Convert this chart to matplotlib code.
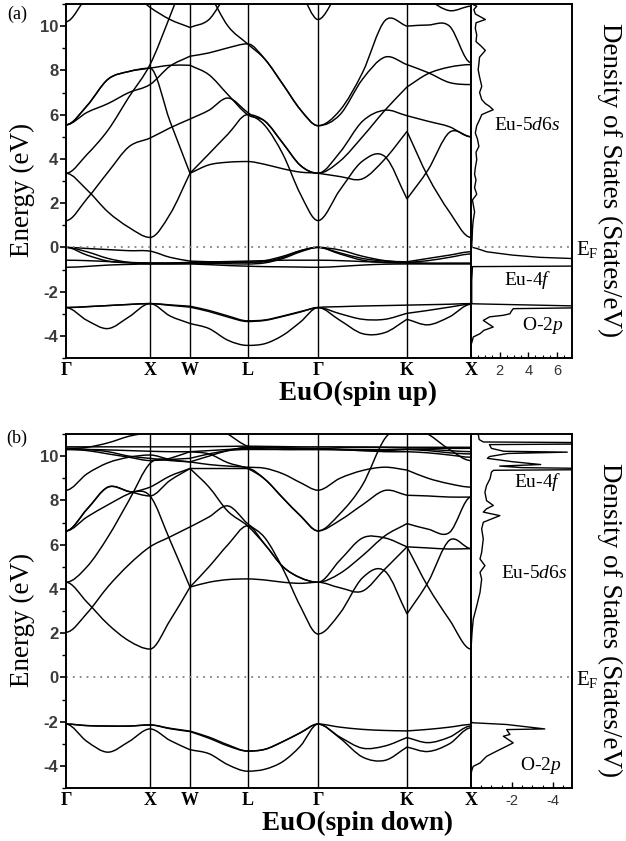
import numpy as np
import matplotlib
matplotlib.use('Agg')
import matplotlib.pyplot as plt
from matplotlib.path import Path
from matplotlib.patches import PathPatch
from matplotlib.ticker import MultipleLocator

plt.rcParams['font.family'] = ['Liberation Serif', 'DejaVu Serif']
plt.rcParams['mathtext.fontset'] = 'custom'
plt.rcParams['mathtext.rm'] = 'Liberation Serif'
plt.rcParams['mathtext.it'] = 'Liberation Serif:italic'
plt.rcParams['axes.unicode_minus'] = False

# k-path (distance along path) and the sampling grid used for all bands
kpts = [0, 84, 124, 181.5, 252, 341, 405]
klabels = ['Γ', 'X', 'W', 'L', 'Γ', 'K', 'X']
kgrid = [0, 21, 42, 63, 84, 104, 124, 143, 162, 181.5, 199, 217, 234.5,
         252, 274, 296.5, 319, 341, 362, 383.5, 405]

# ---- spin up bands (eV) at kgrid ----
up_t = [10.2, 11.3, 11.8, 11.6, 10.85, 10.3, 9.94, 10.3, 11.5, 12.0, 12.0, 12.0, 11.5,
        10.3, 11.6, 12.0, 12.0, 11.8, 11.2, 10.7, 10.9]
up_s = [3.35, 4.2, 5.3, 6.8, 8.26, 10.45, 12.8, 11.5, 10.0, 9.2, 8.5, 7.36, 6.22,
        5.5, 6.2, 7.9, 10.25, 10.0, 10.05, 10.0, 8.35]
up_c2 = [5.54, 6.1, 6.5, 7.0, 7.36, 8.19, 8.64, 8.79, 9.02, 9.2, 8.5, 7.36, 6.22,
         5.5, 6.0, 7.6, 8.6, 8.26, 7.9, 7.45, 7.36]
up_c3 = [5.54, 6.4, 7.6, 7.95, 8.1, 8.23, 8.23, 7.8, 6.9, 6.0, 5.7, 4.7, 3.7,
         3.35, 3.9, 5.0, 6.2, 7.25, 7.85, 8.15, 8.26]
up_d = [5.54, 6.4, 7.6, 7.95, 8.1, 5.7, 3.35, 4.23, 5.12, 6.0, 5.7, 4.7, 3.7,
        3.35, 4.3, 5.7, 6.2, 5.95, 5.7, 5.45, 5.0]
up_a = [1.21, 2.2, 3.4, 4.55, 4.94, 5.4, 5.8, 6.2, 6.75, 6.1, 5.5, 4.2, 2.4,
        1.21, 2.6, 3.9, 4.1, 2.19, 3.5, 5.2, 5.0]
up_b = [3.35, 2.6, 1.6, 0.9, 0.45, 1.5, 3.35, 3.73, 3.85, 3.88, 3.75, 3.55, 3.4,
        3.35, 3.2, 3.1, 4.0, 5.24, 3.2, 1.6, 0.45]
up_f1 = [0.0, -0.05, -0.1, -0.15, -0.17, -0.45, -0.62, -0.65, -0.67, -0.68, -0.6, -0.4, -0.15,
         0.0, -0.25, -0.5, -0.62, -0.65, -0.5, -0.35, -0.2]
up_f2 = [0.0, -0.35, -0.62, -0.7, -0.72, -0.72, -0.7, -0.72, -0.74, -0.75, -0.7, -0.5, -0.2,
         0.0, -0.3, -0.58, -0.68, -0.7, -0.72, -0.72, -0.72]
up_f3 = [-0.58, -0.6, -0.64, -0.68, -0.7, -0.7, -0.68, -0.66, -0.64, -0.62, -0.6, -0.58, -0.58,
         -0.58, -0.6, -0.64, -0.68, -0.7, -0.72, -0.72, -0.72]
up_f4 = [-0.9, -0.86, -0.8, -0.77, -0.75, -0.75, -0.75, -0.78, -0.82, -0.85, -0.87, -0.88, -0.89,
         -0.9, -0.86, -0.8, -0.76, -0.75, -0.75, -0.75, -0.75]
up_f5 = [0.0, -0.2, -0.5, -0.68, -0.74, -0.74, -0.72, -0.7, -0.68, -0.66, -0.65, -0.45, -0.15,
         0.0, -0.12, -0.4, -0.6, -0.68, -0.6, -0.45, -0.3]
up_p1 = [-2.72, -2.68, -2.63, -2.58, -2.54, -2.6, -2.66, -2.85, -3.1, -3.32, -3.28, -3.1, -2.9,
         -2.72, -2.68, -2.65, -2.63, -2.61, -2.59, -2.57, -2.54]
up_p2 = [-2.72, -3.3, -3.67, -3.14, -2.54, -3.1, -3.44, -3.67, -4.2, -4.43, -4.35, -3.97, -3.37,
         -2.72, -3.3, -3.9, -3.85, -3.25, -3.5, -3.14, -2.57]
up_p3 = [-2.72, -2.68, -2.63, -2.58, -2.54, -2.62, -2.7, -2.9, -3.15, -3.35, -3.3, -3.12, -2.92,
         -2.72, -3.0, -3.25, -3.25, -2.98, -2.85, -2.7, -2.57]

# ---- spin down bands ----
dn_t = [8.46, 9.2, 9.7, 9.95, 10.05, 9.85, 9.74, 9.62, 9.55, 9.5, 9.45, 9.2, 8.8,
        8.46, 9.0, 9.35, 9.5, 9.37, 9.0, 8.75, 8.6]
dn_s = [4.3, 5.0, 6.35, 8.0, 9.67, 9.9, 10.2, 10.1, 9.7, 9.44, 8.95, 8.1, 7.3,
        6.62, 7.4, 8.7, 10.8, 11.5, 11.0, 10.3, 9.8]
dn_c2 = [6.62, 7.25, 7.8, 8.3, 8.6, 9.1, 9.44, 9.44, 9.44, 9.44, 8.95, 8.1, 7.3,
         6.62, 7.1, 7.8, 8.45, 8.23, 8.2, 8.15, 8.15]
dn_c3 = [6.62, 7.6, 8.6, 8.4, 8.2, 8.9, 9.44, 8.6, 7.5, 6.85, 6.0, 5.0, 4.5,
         4.3, 4.7, 5.5, 6.4, 6.95, 6.7, 6.55, 8.15]
dn_d = [6.62, 7.6, 8.6, 8.4, 8.2, 6.2, 4.08, 5.0, 6.0, 6.85, 6.0, 5.0, 4.5,
        4.3, 5.3, 6.3, 6.3, 5.9, 5.85, 5.8, 5.82]
dn_a = [2.04, 2.9, 4.1, 5.1, 5.9, 6.35, 6.8, 7.25, 7.75, 6.95, 6.3, 4.9, 3.2,
        1.96, 2.9, 4.5, 4.8, 2.87, 4.3, 6.2, 5.82]
dn_b = [4.3, 3.4, 2.4, 1.65, 1.28, 2.57, 4.08, 4.3, 4.42, 4.45, 4.4, 4.3, 4.25,
        4.3, 4.05, 3.9, 4.9, 5.9, 4.1, 2.6, 1.28]
dn_t2 = [10.35, 10.4, 10.6, 10.9, 11.1, 11.5, 11.8, 11.6, 11.0, 10.45, 10.4, 10.38, 10.36,
         10.35, 10.38, 10.4, 10.4, 10.38, 10.36, 10.35, 10.35]
dn_f1 = [10.42, 10.42, 10.42, 10.42, 10.42, 10.42, 10.42, 10.43, 10.44, 10.45, 10.44, 10.43, 10.42,
         10.42, 10.42, 10.41, 10.4, 10.4, 10.4, 10.4, 10.4]
dn_f2 = [10.3, 10.3, 10.28, 10.25, 10.22, 10.2, 10.2, 10.25, 10.3, 10.35, 10.33, 10.3, 10.3,
         10.3, 10.3, 10.3, 10.3, 10.32, 10.3, 10.25, 10.2]
dn_f3 = [10.3, 10.25, 10.1, 9.95, 9.8, 9.85, 9.9, 10.1, 10.25, 10.3, 10.3, 10.3, 10.3,
         10.3, 10.28, 10.25, 10.2, 10.2, 10.15, 10.05, 9.95]
dn_f4 = [10.35, 10.3, 10.2, 10.0, 9.9, 9.8, 9.74, 10.0, 10.25, 10.4, 10.38, 10.36, 10.35,
         10.35, 10.3, 10.25, 10.25, 10.3, 10.25, 10.15, 10.1]
dn_p1 = [-2.11, -2.18, -2.2, -2.2, -2.15, -2.3, -2.43, -2.7, -3.05, -3.33, -3.25, -2.9, -2.5,
         -2.11, -2.25, -2.35, -2.4, -2.42, -2.35, -2.25, -2.13]
dn_p2 = [-2.11, -2.9, -3.38, -2.9, -2.33, -2.85, -3.27, -3.45, -3.95, -4.24, -4.15, -3.8, -3.1,
         -2.11, -2.75, -3.6, -3.75, -3.15, -3.35, -3.0, -2.28]
dn_p3 = [-2.11, -2.18, -2.2, -2.2, -2.15, -2.32, -2.45, -2.75, -3.1, -3.33, -3.25, -2.9, -2.5,
         -2.11, -2.7, -3.2, -3.1, -2.72, -2.95, -2.7, -2.2]

# ---- density of states ----
dos_up_e = [11.0, 10.9, 10.75, 10.55, 10.3, 10.15, 9.9, 9.6, 9.3, 9.1, 8.9, 8.75, 8.6, 8.3, 8.03,
            7.7, 7.28, 7.0, 6.68, 6.5, 6.37, 6.22, 6.1, 6.0, 5.77, 5.5, 5.17, 4.9, 4.56, 4.3,
            3.96, 3.6, 3.3, 3.05, 2.7, 2.4, 2.14, 1.6, 1.2, 0.8, 0.4, 0.1, 0.0, -0.05, -0.2,
            -0.35, -0.45, -0.5, -0.56, -0.84, -0.87, -1.5, -2.5, -2.55, -2.67, -2.72, -2.77,
            -2.9, -3.0, -3.07, -3.14, -3.3, -3.45, -3.6, -3.75, -3.9, -4.05, -4.2, -4.35]
dos_up_v = [0.05, 0.4, 0.2, 0.3, 1.0, 0.35, 0.3, 0.4, 0.35, 0.7, 1.0, 0.8, 0.6, 0.55, 0.5,
            0.6, 0.75, 0.6, 0.75, 1.0, 1.3, 1.55, 1.1, 0.75, 0.6, 0.4, 0.3, 0.45, 0.55, 0.35,
            0.4, 0.3, 0.25, 0.35, 0.25, 0.4, 0.1, 0.25, 0.15, 0.1, 0.08, 0.05, 0.1, 0.4, 1.1,
            2.9, 4.8, 6.9, 9.0, 9.0, 0.1, 0.05, 0.05, 0.1, 9.0, 9.0, 2.95,
            2.8, 2.72, 2.25, 1.3, 0.86, 1.2, 1.55, 0.9, 0.63, 0.16, 0.1, 0.03]
dos_dn_e = [11.0, 10.75, 10.64, 10.61, 10.55, 10.52, 10.35, 10.22, 10.18, 10.12, 9.98, 9.9, 9.75,
            9.62, 9.55, 9.48, 9.44, 9.39, 9.36, 9.28, 8.98, 8.67, 8.37, 7.99, 7.77, 7.62, 7.47,
            7.31, 7.16, 7.01, 6.71, 6.26, 5.65, 5.35, 5.05, 4.75, 4.44, 3.84, 3.54, 3.23, 2.63,
            2.03, 1.27, 0.0, -1.95, -2.05, -2.13, -2.33, -2.36, -2.58, -2.66, -2.96, -3.11,
            -3.41, -3.57, -3.87, -4.02, -4.17, -4.35]
dos_dn_v = [-0.35, -0.4, -0.6, -6.0, -6.0, -0.9, -1.0, -1.6, -4.7, -1.8, -0.9, -0.8, -2.0,
            -3.4, -1.4, -2.5, -6.0, -6.0, -1.1, -1.0, -0.93, -0.76, -0.68, -0.76, -1.09, -0.76, -0.6,
            -1.41, -1.0, -0.6, -0.52, -0.6, -0.52, -0.44, -0.68, -0.44, -0.52, -0.44, -0.36, -0.28, -0.11,
            -0.05, 0.0, 0.0, 0.0, -0.05, -1.74, -3.6, -1.74, -1.9, -1.58, -2.06, -1.74,
            -1.09, -0.76, -0.44, -0.11, -0.05, 0.0]

up_bands = [up_t, up_s, up_c2, up_c3, up_d, up_a, up_b,
            up_f1, up_f2, up_f3, up_f4, up_f5, up_p1, up_p2, up_p3]
dn_bands = [dn_t, dn_s, dn_c2, dn_c3, dn_d, dn_a, dn_b, dn_t2,
            dn_f1, dn_f2, dn_f3, dn_f4, dn_p1, dn_p2, dn_p3]

SMOOTH_PTS = (0, 84, 181.5, 252, 405)   # Γ, X, L
KINK_PTS = (124, 341)                    # W, K


def band_slopes(k, e):
    n = len(k)
    m_in = np.zeros(n)
    m_out = np.zeros(n)
    for i in range(n):
        back = (e[i] - e[i-1]) / (k[i] - k[i-1]) if i > 0 else None
        fwd = (e[i+1] - e[i]) / (k[i+1] - k[i]) if i < n - 1 else None
        if k[i] in KINK_PTS:
            m_in[i], m_out[i] = back, fwd
        elif k[i] in SMOOTH_PTS and (back is None or fwd is None or back * fwd <= 0):
            m_in[i] = m_out[i] = 0.0
        else:
            m_in[i] = m_out[i] = (e[i+1] - e[i-1]) / (k[i+1] - k[i-1])
    return m_in, m_out


def band_patch(e):
    # smooth cubic curve through the read values (bezier path in data coords)
    k = np.asarray(kgrid, float)
    e = np.asarray(e, float)
    m_in, m_out = band_slopes(k, e)
    verts = [(k[0], e[0])]
    codes = [Path.MOVETO]
    for i in range(len(k) - 1):
        h = (k[i+1] - k[i]) / 3
        verts += [(k[i] + h, e[i] + m_out[i] * h),
                  (k[i+1] - h, e[i+1] - m_in[i+1] * h),
                  (k[i+1], e[i+1])]
        codes += [Path.CURVE4] * 3
    return PathPatch(Path(verts, codes), fill=False, lw=1.05, edgecolor='k')


W, H = 626, 841
fig = plt.figure(figsize=(W / 100, H / 100), dpi=100)


def fx(x):
    return x / W


def fy(y):
    return 1 - y / H


def panel(top, bands, dos_e, dos_v, dos_lim, dos_ticks):
    bottom = fy(top + 354)
    ax = fig.add_axes([fx(66), bottom, fx(405), 354 / H])
    dax = fig.add_axes([fx(471), bottom, fx(101), 354 / H])

    for b in bands:
        ax.add_patch(band_patch(b))
    for p in kpts[1:-1]:
        ax.axvline(p, color='k', lw=1.0)
    ax.set_xlim(0, 405)
    ax.set_ylim(-5, 11)
    ax.set_xticks(kpts)
    ax.set_xticklabels(klabels, fontweight='bold', fontsize=13)
    ax.tick_params(axis='x', length=0, pad=3)
    ax.set_yticks(range(-4, 11, 2))
    ax.set_yticks(range(-5, 12), minor=True)
    ax.tick_params(axis='y', which='major', direction='out', length=4, width=1.2, pad=1.5)
    ax.tick_params(axis='y', which='minor', direction='out', length=3, width=1.0)
    for lab in ax.get_yticklabels():
        lab.set_fontfamily('Liberation Sans')
        lab.set_fontweight('bold')
        lab.set_fontsize(12)
        lab.set_color('#3a3a3a')

    dax.plot(dos_v, dos_e, color='k', lw=1.0)
    dax.set_xlim(*dos_lim)
    dax.set_ylim(-5, 11)
    dax.set_yticks([])
    dax.set_xticks(dos_ticks)
    dax.xaxis.set_minor_locator(MultipleLocator(0.5))
    dax.tick_params(axis='x', which='major', direction='in', length=4.5, width=1.0, pad=4)
    dax.tick_params(axis='x', which='minor', direction='in', length=2.5, width=0.8)
    for lab in dax.get_xticklabels():
        lab.set_fontfamily('Liberation Sans')
        lab.set_fontsize(10.5)
        lab.set_color('#333333')

    for a in (ax, dax):
        a.axhline(0, color='#808080', lw=1.3, ls=(0, (1, 2.8)))
        for sp in a.spines.values():
            sp.set_linewidth(1.4)
    return ax, dax


panel(4, up_bands, dos_up_e, dos_up_v, (0, 7.05), [2, 4, 6])
panel(434, dn_bands, dos_dn_e, dos_dn_v, (0, -4.93), [-2, -4])

# panel letters and axis titles
fig.text(fx(17), fy(14), '(a)', fontsize=13, ha='center', va='center')
fig.text(fx(17), fy(438), '(b)', fontsize=13, ha='center', va='center')
for yc in (190, 620):
    fig.text(fx(22), fy(yc), 'Energy (eV)', fontsize=19.5, rotation=90,
             ha='center', va='center')
for yc in (180, 620):
    fig.text(fx(610), fy(yc), 'Density of States (States/eV)', fontsize=19.5,
             rotation=270, ha='center', va='center')
fig.text(fx(358), fy(400), 'EuO(spin up)', fontsize=19.5, fontweight='bold',
         ha='center', va='baseline')
fig.text(fx(358), fy(830), 'EuO(spin down)', fontsize=19.5, fontweight='bold',
         ha='center', va='baseline')

# DOS annotations
notes = [('Eu-5$d$6$s$', 527, 125), ('Eu-4$f$', 528, 280), ('O-2$p$', 543, 325),
         ('Eu-4$f$', 538, 482), ('Eu-5$d$6$s$', 534, 573), ('O-2$p$', 541, 765)]
for txt, x, y in notes:
    fig.text(fx(x), fy(y), txt, fontsize=14, ha='center', va='center')
for y in (249, 680):
    fig.text(fx(576), fy(y), 'E$_\\mathrm{F}$', fontsize=15, ha='left', va='center')

fig.savefig('out.png', dpi=100)
